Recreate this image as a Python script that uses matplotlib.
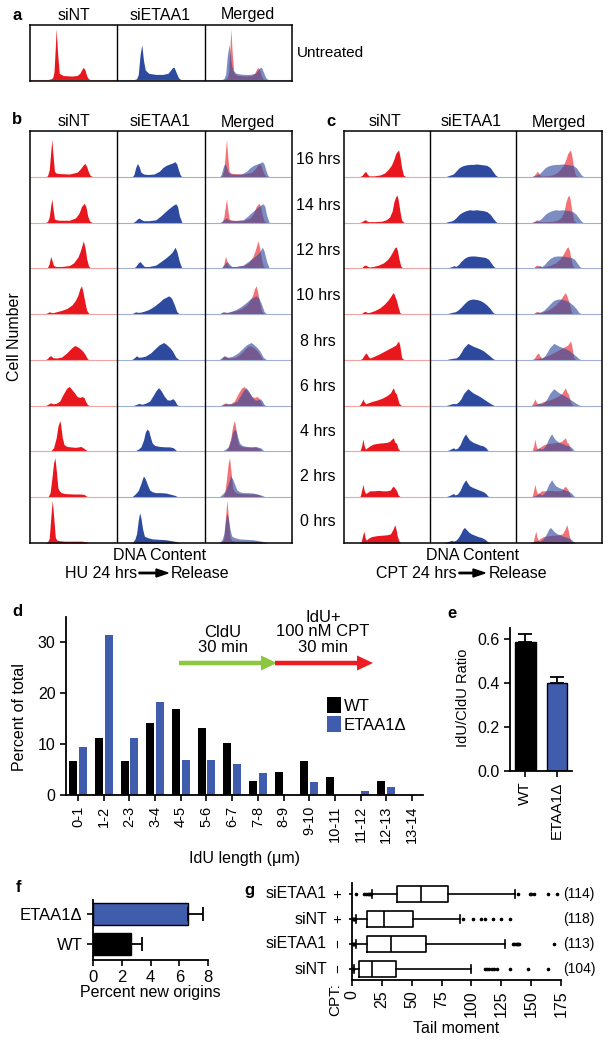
import numpy as np
import matplotlib
matplotlib.use('Agg')
import matplotlib.pyplot as plt
from matplotlib.patches import FancyArrow

plt.rcParams['font.family'] = ['Liberation Sans', 'DejaVu Sans']
plt.rcParams['font.size'] = 11

# ---------------- flow histograms ----------------
# x = position inside a column (0-100), y = height as share of one row
column_titles = ['siNT', 'siETAA1', 'Merged']
time_labels = ['16 hrs', '14 hrs', '12 hrs', '10 hrs', '8 hrs', '6 hrs', '4 hrs', '2 hrs', '0 hrs']

a_sint_x = [[19, 24, 26, 27.5, 29, 30, 31.5, 33.5, 38, 48, 54, 57, 59, 61, 63, 65, 67, 70]]
a_sint_y = [[0, 0.02, 0.04, 0.15, 0.6, 0.93, 0.5, 0.12, 0.08, 0.07, 0.08, 0.12, 0.18, 0.23, 0.18, 0.07, 0.02, 0]]
a_siet_x = [[18, 22, 24, 26, 28, 30, 32, 36, 44, 52, 58, 61, 63, 65, 67, 70, 73]]
a_siet_y = [[0, 0.02, 0.1, 0.45, 0.64, 0.35, 0.18, 0.12, 0.1, 0.1, 0.12, 0.18, 0.22, 0.23, 0.15, 0.04, 0]]

b_sint_x = [
    [17, 20, 22, 24, 25, 26, 28, 30, 34, 45, 54, 58, 61, 63, 65, 67, 69, 72],
    [17, 20, 22, 24, 25, 26, 28, 30, 34, 45, 52, 56, 59, 62, 64, 66, 68, 71],
    [17, 20, 22, 23, 24, 25, 27, 30, 36, 45, 50, 55, 58, 61, 63, 65, 67, 70],
    [17, 20, 22, 24, 26, 30, 36, 42, 48, 52, 55, 57, 59, 61, 63, 65, 68],
    [17, 20, 22, 24, 26, 30, 36, 42, 47, 50, 52, 55, 57, 60, 63, 66, 69],
    [17, 20, 22, 24, 26, 30, 34, 38, 42, 45, 48, 51, 54, 57, 60, 62, 64, 66, 69],
    [20, 24, 27, 30, 32, 34, 35, 37, 39, 42, 46, 52, 56, 58, 60, 63, 66, 69],
    [18, 21, 23, 25, 27, 28.5, 30, 32, 34, 36, 40, 50, 58, 62, 65, 68],
    [17, 20, 22, 24, 25.5, 27, 29, 31, 34, 40, 50, 56, 60, 64, 67],
]
b_sint_y = [
    [0, 0.02, 0.15, 0.6, 0.82, 0.55, 0.12, 0.08, 0.07, 0.06, 0.1, 0.18, 0.26, 0.29, 0.22, 0.1, 0.03, 0],
    [0, 0.02, 0.12, 0.4, 0.52, 0.35, 0.08, 0.06, 0.05, 0.05, 0.1, 0.2, 0.35, 0.42, 0.35, 0.15, 0.04, 0],
    [0, 0.02, 0.1, 0.2, 0.26, 0.18, 0.06, 0.04, 0.04, 0.06, 0.12, 0.25, 0.4, 0.6, 0.45, 0.2, 0.05, 0],
    [0, 0.03, 0.05, 0.04, 0.03, 0.05, 0.08, 0.12, 0.2, 0.3, 0.42, 0.55, 0.62, 0.45, 0.25, 0.08, 0],
    [0, 0.03, 0.08, 0.09, 0.05, 0.04, 0.06, 0.15, 0.25, 0.3, 0.31, 0.28, 0.25, 0.2, 0.12, 0.02, 0],
    [0, 0.02, 0.05, 0.06, 0.04, 0.05, 0.1, 0.25, 0.38, 0.42, 0.35, 0.28, 0.2, 0.18, 0.2, 0.17, 0.08, 0.02, 0],
    [0, 0.02, 0.08, 0.3, 0.55, 0.67, 0.6, 0.3, 0.15, 0.11, 0.1, 0.09, 0.1, 0.11, 0.09, 0.05, 0.01, 0],
    [0, 0.02, 0.1, 0.4, 0.75, 0.86, 0.6, 0.2, 0.13, 0.1, 0.08, 0.07, 0.07, 0.06, 0.02, 0],
    [0, 0.02, 0.1, 0.6, 0.93, 0.6, 0.12, 0.06, 0.05, 0.04, 0.04, 0.04, 0.04, 0.02, 0],
]
b_siet_x = [
    [17, 19, 21, 23, 25, 27, 30, 35, 42, 48, 52, 56, 60, 63, 66, 68, 70, 72, 74],
    [18, 21, 23, 25, 27, 30, 36, 44, 50, 55, 60, 64, 67, 69, 71, 74],
    [18, 21, 24, 26, 28, 31, 36, 44, 50, 55, 60, 63, 66, 68, 71, 74],
    [16, 19, 21, 23, 26, 30, 36, 42, 48, 52, 56, 59, 62, 65, 68, 71],
    [16, 19, 22, 24, 27, 32, 38, 44, 48, 51, 53, 56, 60, 63, 67, 71],
    [18, 22, 25, 28, 32, 37, 41, 44, 46, 47.5, 50, 54, 57, 60, 62, 64, 66, 68, 70],
    [18, 21, 24, 27, 30, 32, 34, 36, 38, 40, 43, 48, 55, 60, 64, 67, 69],
    [16, 18, 21, 24, 27, 29, 30, 32, 33, 35, 37, 40, 44, 50, 56, 62, 66, 70],
    [16, 18, 20, 22, 24, 25.5, 27, 29, 31, 34, 40, 48, 56, 62, 68, 72],
]
b_siet_y = [
    [0, 0.05, 0.2, 0.29, 0.22, 0.1, 0.06, 0.05, 0.06, 0.12, 0.2, 0.25, 0.28, 0.3, 0.33, 0.28, 0.15, 0.04, 0],
    [0, 0.04, 0.08, 0.1, 0.07, 0.04, 0.04, 0.06, 0.15, 0.24, 0.32, 0.38, 0.41, 0.35, 0.15, 0],
    [0, 0.04, 0.12, 0.15, 0.1, 0.04, 0.04, 0.07, 0.15, 0.22, 0.3, 0.36, 0.46, 0.38, 0.15, 0],
    [0, 0.03, 0.05, 0.04, 0.04, 0.06, 0.1, 0.17, 0.26, 0.33, 0.37, 0.4, 0.35, 0.22, 0.06, 0],
    [0, 0.04, 0.09, 0.06, 0.06, 0.08, 0.15, 0.26, 0.33, 0.36, 0.38, 0.34, 0.27, 0.2, 0.06, 0],
    [0, 0.03, 0.05, 0.03, 0.05, 0.1, 0.22, 0.32, 0.37, 0.39, 0.33, 0.2, 0.13, 0.12, 0.14, 0.15, 0.1, 0.03, 0],
    [0, 0.02, 0.05, 0.1, 0.25, 0.42, 0.49, 0.45, 0.3, 0.18, 0.13, 0.11, 0.1, 0.1, 0.08, 0.03, 0],
    [0, 0.03, 0.08, 0.15, 0.3, 0.42, 0.46, 0.4, 0.35, 0.25, 0.16, 0.12, 0.1, 0.1, 0.09, 0.06, 0.04, 0],
    [0, 0.03, 0.08, 0.2, 0.5, 0.66, 0.55, 0.3, 0.15, 0.12, 0.09, 0.08, 0.07, 0.05, 0.03, 0],
]
c_sint_x = [
    [18, 21, 23, 25, 27, 29, 35, 42, 47, 51, 55, 58, 60, 62, 63.5, 65, 67, 69, 72],
    [18, 21, 23, 25, 27, 29, 36, 44, 49, 53, 56, 58, 60, 61.5, 63, 65, 67, 70],
    [18, 21, 23, 25, 27, 29, 34, 40, 46, 51, 54, 57, 59, 60.5, 62, 64, 66, 69],
    [18, 21, 23, 25, 27, 30, 36, 42, 47, 51, 54, 56, 57.5, 59, 61, 63, 65, 68],
    [18, 21, 24, 26, 28, 30, 34, 40, 46, 52, 56, 60, 62, 63.5, 65, 67, 70],
    [17, 19, 21, 22, 23, 25, 28, 32, 38, 44, 50, 54, 56, 57.5, 59, 61, 64, 67],
    [17, 19, 20.5, 22, 23.5, 25, 27, 30, 34, 40, 46, 50, 53, 55, 57.5, 59, 61, 63, 66],
    [17, 19, 20.5, 22, 23.5, 25, 27, 30, 35, 40, 45, 50, 54, 56, 57.5, 59, 61, 63, 66],
    [18, 20, 21.5, 23, 24.5, 26, 28, 32, 38, 44, 50, 54, 57, 59, 60.5, 62, 64, 66],
]
c_sint_y = [
    [0, 0.03, 0.08, 0.12, 0.06, 0.02, 0.02, 0.04, 0.08, 0.15, 0.25, 0.38, 0.5, 0.56, 0.58, 0.45, 0.2, 0.04, 0],
    [0, 0.02, 0.05, 0.06, 0.03, 0.02, 0.02, 0.03, 0.06, 0.12, 0.25, 0.45, 0.56, 0.6, 0.5, 0.25, 0.05, 0],
    [0, 0.02, 0.06, 0.07, 0.05, 0.03, 0.04, 0.07, 0.12, 0.2, 0.28, 0.38, 0.45, 0.47, 0.4, 0.2, 0.05, 0],
    [0, 0.02, 0.05, 0.06, 0.03, 0.04, 0.08, 0.14, 0.22, 0.3, 0.38, 0.44, 0.47, 0.4, 0.3, 0.15, 0.03, 0],
    [0, 0.03, 0.12, 0.15, 0.08, 0.04, 0.07, 0.12, 0.18, 0.24, 0.28, 0.32, 0.38, 0.41, 0.3, 0.05, 0],
    [0, 0.03, 0.1, 0.15, 0.1, 0.04, 0.06, 0.09, 0.12, 0.16, 0.22, 0.28, 0.35, 0.39, 0.3, 0.25, 0.05, 0],
    [0, 0.03, 0.12, 0.27, 0.12, 0.05, 0.08, 0.12, 0.16, 0.18, 0.19, 0.2, 0.22, 0.26, 0.3, 0.2, 0.18, 0.06, 0],
    [0, 0.03, 0.15, 0.28, 0.15, 0.08, 0.1, 0.14, 0.14, 0.15, 0.14, 0.14, 0.16, 0.22, 0.24, 0.2, 0.15, 0.05, 0],
    [0, 0.03, 0.15, 0.26, 0.12, 0.06, 0.1, 0.14, 0.16, 0.17, 0.18, 0.2, 0.3, 0.4, 0.3, 0.15, 0.04, 0],
]
c_siet_x = [
    [18, 21, 24, 27, 30, 34, 38, 42, 46, 50, 54, 58, 62, 66, 70, 73, 76, 79],
    [18, 21, 24, 27, 30, 34, 38, 42, 46, 50, 54, 58, 62, 66, 70, 73, 76, 78],
    [18, 22, 26, 28, 30, 33, 36, 40, 44, 48, 52, 56, 60, 64, 68, 71, 74, 77],
    [18, 22, 26, 29, 32, 36, 40, 44, 47, 50, 54, 58, 62, 66, 70, 73, 76],
    [18, 22, 25, 28, 30, 33, 36, 39, 42, 44, 46, 50, 54, 58, 62, 66, 70, 73, 76],
    [18, 22, 25, 28, 30, 33, 36, 39, 42, 44, 46, 50, 54, 58, 62, 66, 70, 73, 75],
    [17, 20, 23, 26, 27.5, 29, 32, 35, 38, 40, 41.5, 43, 46, 50, 54, 58, 62, 65, 67, 70],
    [17, 20, 23, 26, 27.5, 29, 32, 35, 38, 40, 41.5, 43, 46, 50, 54, 58, 62, 65, 67, 70],
    [16, 19, 22, 24, 25.5, 27, 30, 33, 36, 38, 40, 42, 45, 48, 52, 56, 60, 64, 67, 70],
]
c_siet_y = [
    [0, 0.02, 0.04, 0.06, 0.12, 0.2, 0.24, 0.26, 0.27, 0.27, 0.28, 0.27, 0.26, 0.25, 0.2, 0.12, 0.04, 0],
    [0, 0.02, 0.03, 0.05, 0.1, 0.18, 0.23, 0.26, 0.28, 0.27, 0.28, 0.27, 0.26, 0.24, 0.18, 0.1, 0.03, 0],
    [0, 0.02, 0.04, 0.06, 0.04, 0.08, 0.15, 0.22, 0.26, 0.27, 0.27, 0.26, 0.25, 0.24, 0.2, 0.12, 0.04, 0],
    [0, 0.02, 0.04, 0.05, 0.08, 0.15, 0.23, 0.3, 0.32, 0.33, 0.32, 0.3, 0.26, 0.2, 0.12, 0.04, 0],
    [0, 0.02, 0.03, 0.04, 0.04, 0.08, 0.16, 0.26, 0.32, 0.36, 0.34, 0.3, 0.27, 0.24, 0.2, 0.14, 0.08, 0.03, 0],
    [0, 0.02, 0.04, 0.05, 0.04, 0.08, 0.15, 0.26, 0.33, 0.37, 0.34, 0.28, 0.24, 0.2, 0.15, 0.1, 0.05, 0.02, 0],
    [0, 0.02, 0.04, 0.07, 0.08, 0.05, 0.07, 0.15, 0.28, 0.35, 0.38, 0.33, 0.25, 0.2, 0.17, 0.14, 0.12, 0.08, 0.03, 0],
    [0, 0.02, 0.04, 0.07, 0.08, 0.05, 0.07, 0.15, 0.28, 0.34, 0.38, 0.33, 0.25, 0.21, 0.18, 0.15, 0.12, 0.08, 0.03, 0],
    [0, 0.02, 0.04, 0.05, 0.06, 0.04, 0.06, 0.12, 0.22, 0.3, 0.34, 0.3, 0.24, 0.2, 0.17, 0.14, 0.12, 0.08, 0.03, 0],
]

# ---------------- panel d: fibre lengths ----------------
length_bins = ['0-1', '1-2', '2-3', '3-4', '4-5', '5-6', '6-7', '7-8', '8-9',
               '9-10', '10-11', '11-12', '12-13', '13-14']
wt_pct = [6.6, 11.3, 6.6, 14.1, 17.0, 13.2, 10.3, 2.8, 4.6, 6.6, 3.6, 0, 2.7, 0]
etaa_pct = [9.5, 31.4, 11.3, 18.2, 6.9, 6.9, 6.0, 4.3, 0, 2.5, 0, 0.8, 1.6, 0]

# ---------------- panel e: IdU/CldU ratio ----------------
ratio_groups = ['WT', 'ETAA1Δ']
ratio_mean = [0.588, 0.399]
ratio_err = [0.037, 0.030]

# ---------------- panel f: new origins ----------------
origin_groups = ['WT', 'ETAA1Δ']
origin_pct = [2.64, 6.6]
origin_err = [0.8, 1.05]

# ---------------- panel g: comet tail moment (bottom row first) ----------------
g_names = ['siNT', 'siETAA1', 'siNT', 'siETAA1']
g_cpt = ['−', '−', '+', '+']
g_counts = ['(104)', '(113)', '(118)', '(114)']
g_whislo = [2, 3, 3, 17]
g_q1 = [6.1, 12.3, 12.3, 37.4]
g_med = [16.5, 32.4, 26.8, 57.5]
g_q3 = [36.8, 61.7, 51.4, 80.7]
g_whishi = [99.4, 128.1, 90.5, 136.5]
g_fliers = [
    [0.3, 0.6, 1.0, 111, 113, 115, 117, 119, 121, 132, 147, 164],
    [0.5, 1.0, 1.5, 2.0, 135, 136, 137, 138, 139, 140, 169],
    [0.5, 1.0, 1.5, 2.0, 2.5, 93, 101, 108, 111, 118, 125, 132],
    [3, 10, 12, 13, 14, 15, 16, 139, 149, 150, 152, 164, 172],
]

RED = '#E8161D'
BLUE = '#2E4A9E'
RED_LIGHT = '#F4A3A3'
BLUE_LIGHT = '#A3AED6'
BAR_BLUE = '#3F5DAC'

W, H = 612, 1043
fig = plt.figure(figsize=(W / 100, H / 100), dpi=100)


def px_axes(x0, y0, x1, y1):
    return fig.add_axes([x0 / W, 1 - y1 / H, (x1 - x0) / W, (y1 - y0) / H])


def draw_grid(ax, sx, sy, ex, ey, nrows, ymin=0):
    for i in range(nrows):
        r = nrows - 1 - i
        ax.plot([0, 100], [r, r], color=RED_LIGHT, lw=0.8)
        ax.plot([100, 300], [r, r], color=BLUE_LIGHT, lw=0.8)
        xs, ys = np.array(sx[i]), np.array(sy[i])
        xe, ye = np.array(ex[i]), np.array(ey[i])
        ax.fill_between(xs, r + ys, r, color=RED, lw=0)
        ax.fill_between(xe + 100, r + ye, r, color=BLUE, lw=0)
        ax.fill_between(xs + 200, r + ys, r, color=RED, alpha=0.6, lw=0)
        ax.fill_between(xe + 200, r + ye, r, color=BLUE, alpha=0.63, lw=0)
    ax.axvline(100, color='k', lw=1)
    ax.axvline(200, color='k', lw=1)
    ax.set_xlim(0, 300)
    ax.set_ylim(ymin, nrows)
    ax.set_xticks([])
    ax.set_yticks([])
    for s in ax.spines.values():
        s.set_linewidth(1.1)


axa = px_axes(30, 25, 292, 81)
draw_grid(axa, a_sint_x, a_sint_y, a_siet_x, a_siet_y, 1, ymin=-0.02)
axb = px_axes(30, 131, 292, 543)
draw_grid(axb, b_sint_x, b_sint_y, b_siet_x, b_siet_y, 9)
axc = px_axes(344, 131, 602, 543)
draw_grid(axc, c_sint_x, c_sint_y, c_siet_x, c_siet_y, 9)


def style_axis(ax, size=11):
    for side in ['top', 'right']:
        ax.spines[side].set_visible(False)
    for side in ['left', 'bottom']:
        ax.spines[side].set_linewidth(1.3)
    ax.tick_params(direction='out', length=4, width=1.2, labelsize=size)


# panel d
axd = px_axes(66, 617, 423, 795)
idx = np.arange(len(length_bins))
axd.bar(idx - 0.19, wt_pct, 0.31, color='k', label='WT')
axd.bar(idx + 0.19, etaa_pct, 0.31, color=BAR_BLUE, label='ETAA1Δ')
axd.set_xlim(-0.47, 13.43)
axd.set_ylim(0, 35)
axd.set_yticks([0, 10, 20, 30])
axd.set_xticks(idx)
style_axis(axd, 11.5)
axd.set_xticklabels(length_bins, rotation=90, fontsize=10.5)
axd.set_ylabel('Percent of total', fontsize=11.5)
axd.yaxis.set_label_coords(-0.11, 0.44)
axd.set_xlabel('IdU length (μm)', fontsize=11.5, labelpad=6)
axd.legend(loc='upper left', bbox_to_anchor=(0.73, 0.55), frameon=False, fontsize=12,
           handlelength=0.85, handleheight=1.1, handletextpad=0.2, labelspacing=0.15,
           borderaxespad=0, borderpad=0)

# panel e
axe = px_axes(510, 628, 572, 771)
axe.bar([0, 1], ratio_mean, 0.66, color=['k', BAR_BLUE], edgecolor='k', lw=1,
        yerr=[[0, 0], ratio_err], error_kw=dict(capsize=5, elinewidth=1.3, capthick=1.3))
axe.set_xlim(-0.49, 1.48)
axe.set_ylim(0, 0.65)
axe.set_yticks([0, 0.2, 0.4, 0.6])
axe.set_yticklabels(['0.0', '0.2', '0.4', '0.6'])
axe.set_xticks([0, 1])
style_axis(axe, 11.5)
axe.set_xticklabels(ratio_groups, rotation=90, fontsize=11)
axe.set_ylabel('IdU/CldU Ratio', fontsize=10.5)
axe.yaxis.set_label_coords(-0.64, 0.51)

# panel f
axf = px_axes(93, 900, 208, 960)
axf.barh([0, 1], origin_pct, 0.73, color=['k', BAR_BLUE], edgecolor='k', lw=1,
         xerr=[[0, 0], origin_err], error_kw=dict(capsize=5, elinewidth=1.3, capthick=1.3))
axf.set_xlim(0, 8)
axf.set_ylim(-0.53, 1.47)
axf.set_xticks([0, 2, 4, 6, 8])
axf.set_yticks([0, 1])
axf.set_yticklabels(origin_groups)
style_axis(axf, 12)
axf.set_xlabel('Percent new origins', fontsize=11.5, labelpad=0)

# panel g
axg = px_axes(352, 883, 561, 980)
g_stats = []
for i in range(4):
    g_stats.append(dict(whislo=g_whislo[i], q1=g_q1[i], med=g_med[i], q3=g_q3[i],
                        whishi=g_whishi[i], fliers=g_fliers[i]))
axg.bxp(g_stats, positions=[0, 1, 2, 3], widths=0.64, vert=False,
        boxprops=dict(lw=1.2, color='k'), whiskerprops=dict(lw=1.2, color='k'),
        capprops=dict(lw=1.2, color='k'), medianprops=dict(lw=1.2, color='k'),
        flierprops=dict(marker='o', ms=1.6, mfc='k', mec='k'))
axg.set_xlim(0, 175)
axg.set_ylim(-0.44, 3.44)
axg.set_xticks(range(0, 176, 25))
axg.set_yticks([0, 1, 2, 3])
axg.set_yticklabels([''] * 4)
style_axis(axg, 11.5)
axg.set_xticklabels([str(v) for v in range(0, 176, 25)], rotation=90)
axg.set_xlabel('Tail moment', fontsize=11.5, labelpad=3)
axg.tick_params(axis='y', length=2)

# ---------------- overlay for free text (pixel coords) ----------------
ov = fig.add_axes([0, 0, 1, 1])
ov.set_xlim(0, W)
ov.set_ylim(H, 0)
ov.axis('off')
ov.patch.set_alpha(0)

for lab, x, y in [('a', 17, 15), ('b', 17, 120), ('c', 331, 121), ('d', 17, 612),
                  ('e', 452, 613), ('f', 18, 888), ('g', 249, 891)]:
    ov.text(x, y, lab, fontsize=12, fontweight='bold', ha='center', va='center')

for x0, y in [(30, 15), (30, 122), (341, 122)]:
    for j, t in enumerate(column_titles):
        ov.text(x0 + 43.5 + j * 87, y, t, fontsize=11.5, ha='center', va='center')

ov.text(297, 53, 'Untreated', fontsize=11, ha='left', va='center')
for i, t in enumerate(time_labels):
    ov.text(318, 160 + 45.25 * i, t, fontsize=11.5, ha='center', va='center')

ov.text(15, 337, 'Cell Number', fontsize=11.5, rotation=90, ha='center', va='center')

for cx, left, a0, a1, right in [(160, 'HU 24 hrs', 139, 168, 171), (473, 'CPT 24 hrs', 459, 485, 489)]:
    ov.text(cx, 555, 'DNA Content', fontsize=11.5, ha='center', va='center')
    ov.text(a0 - 2, 573, left, fontsize=11.5, ha='right', va='center')
    ov.add_patch(FancyArrow(a0, 573, a1 - a0, 0, width=1.4, head_width=8, head_length=12,
                            length_includes_head=True, color='k'))
    ov.text(right, 573, 'Release', fontsize=11.5, ha='left', va='center')

# labelling arrows of panel d
ov.add_patch(FancyArrow(179, 663, 98, 0, width=4.5, head_width=15, head_length=16,
                        length_includes_head=True, color='#8DC63F', lw=0))
ov.add_patch(FancyArrow(275, 663, 98, 0, width=4.5, head_width=15, head_length=16,
                        length_includes_head=True, color='#ED1C24', lw=0))
ov.text(223, 640, 'CldU\n30 min', fontsize=12, ha='center', va='center', linespacing=1.0)
ov.text(323, 632, 'IdU+\n100 nM CPT\n30 min', fontsize=12, ha='center', va='center', linespacing=1.0)

# panel g row labels
g_rows_px = [969, 944, 919, 894]
for i in range(4):
    y = g_rows_px[i]
    ov.text(327, y, g_names[i], fontsize=11.5, ha='right', va='center')
    ov.text(338, y, g_cpt[i], fontsize=11, ha='center', va='center', rotation=90)
    ov.text(563, y, g_counts[i], fontsize=10, ha='left', va='center')
ov.text(335, 1000, 'CPT:', fontsize=11, rotation=90, ha='center', va='center')

fig.savefig('out.png', dpi=100)
